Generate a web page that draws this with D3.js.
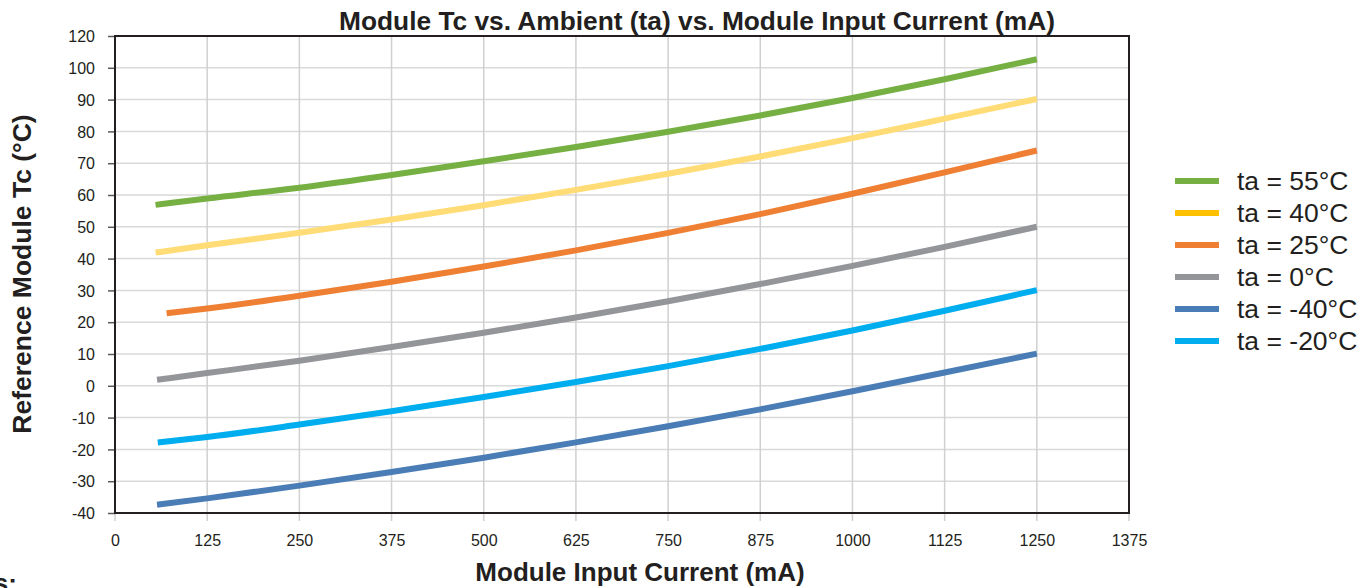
<!DOCTYPE html>
<html>
<head>
<meta charset="utf-8">
<script src="https://cdn.jsdelivr.net/npm/d3@7"></script>
<style>
    body { margin: 0; background: #fff; }
    text { font-family: "Liberation Sans", Arial, sans-serif; fill: #231f20; }
</style>
</head>
<body>
<div class="canvas"></div>
<script>
// series data (current in mA, Tc in °C)
const seriesNames = ['ta = 55°C', 'ta = 40°C', 'ta = 25°C', 'ta = 0°C', 'ta = -40°C', 'ta = -20°C'];
const startCurrent = [55, 55, 70, 57, 57, 58];
const startTc = [56.9, 41.9, 22.8, 1.9, -37.4, -17.8];
const gridCurrent = [125, 250, 375, 500, 625, 750, 875, 1000, 1125, 1250];
const tc55 = [58.9, 62.3, 66.3, 70.6, 75.1, 79.9, 85.0, 90.5, 96.4, 102.7];
const tc40 = [44.2, 48.1, 52.3, 56.8, 61.6, 66.7, 72.1, 77.9, 84.0, 90.2];
const tc25 = [24.3, 28.3, 32.7, 37.5, 42.6, 48.1, 54.0, 60.4, 67.1, 74.0];
const tc0 = [4.0, 7.9, 12.2, 16.7, 21.5, 26.6, 32.0, 37.7, 43.7, 50.0];
const tcMinus40 = [-35.4, -31.4, -27.1, -22.6, -17.8, -12.7, -7.4, -1.7, 4.2, 10.1];
const tcMinus20 = [-16.1, -12.2, -8.0, -3.5, 1.2, 6.2, 11.6, 17.4, 23.6, 30.1];

const xTickValues = d3.range(0, 1376, 125);
const yTickValues = d3.range(-40, 111, 10);
const yTickLabels = ['-40', '-30', '-20', '-10', '0', '10', '20', '30', '40', '50', '60', '70', '80', '90', '100', '120'];

const dims = {
    width: 1372,
    height: 588,
    left: 115,
    right: 1129,
    top: 36,
    bottom: 513
};

const lineColours = ['#76b043', '#ffdc76', '#ee7f33', '#939598', '#4a7db5', '#00aeef'];
const legendColours = ['#76b043', '#ffc000', '#ee7f33', '#939598', '#4a7db5', '#00aeef'];

const svg = d3.select('.canvas')
    .append('svg')
    .attr('width', dims.width)
    .attr('height', dims.height);

const x = d3.scaleLinear().domain([0, 1375]).range([dims.left, dims.right]);
const y = d3.scaleLinear().domain([-40, 110]).range([dims.bottom, dims.top]);

// gridlines
svg.append('g')
    .selectAll('line')
    .data(yTickValues)
    .enter().append('line')
    .attr('x1', dims.left).attr('x2', dims.right)
    .attr('y1', d => y(d)).attr('y2', d => y(d))
    .attr('stroke', '#d9d9d9').attr('stroke-width', 1.5);

svg.append('g')
    .selectAll('line')
    .data(xTickValues)
    .enter().append('line')
    .attr('x1', d => x(d)).attr('x2', d => x(d))
    .attr('y1', dims.top).attr('y2', dims.bottom + 8)
    .attr('stroke', '#d0d0d0').attr('stroke-width', 1.5);

// axes
const xAxis = svg.append('g')
    .attr('transform', `translate(0, ${dims.bottom})`)
    .call(d3.axisBottom(x).tickValues(xTickValues).tickSize(0).tickPadding(22).tickFormat(d3.format('d')));
xAxis.select('.domain').remove();
xAxis.selectAll('text').style('font-size', '16px').attr('fill', '#231f20');

const yAxis = svg.append('g')
    .attr('transform', `translate(${dims.left}, 0)`)
    .call(d3.axisLeft(y).tickValues(yTickValues).tickSize(7).tickPadding(13)
        .tickFormat((d, i) => yTickLabels[i]));
yAxis.select('.domain').remove();
yAxis.selectAll('line').attr('stroke', '#595959').attr('stroke-width', 1.5);
yAxis.selectAll('text').style('font-size', '16px').attr('fill', '#231f20').attr('dy', '0.35em');

// curves
const series = [tc55, tc40, tc25, tc0, tcMinus40, tcMinus20].map((vals, i) => {
    const pts = [{ current: startCurrent[i], tc: startTc[i] }];
    gridCurrent.forEach((c, j) => pts.push({ current: c, tc: vals[j] }));
    return { name: seriesNames[i], points: pts };
});

const line = d3.line()
    .x(d => x(d.current))
    .y(d => y(d.tc))
    .curve(d3.curveMonotoneX);

svg.append('g')
    .selectAll('path')
    .data(series)
    .enter().append('path')
    .attr('d', d => line(d.points))
    .attr('fill', 'none')
    .attr('stroke', (d, i) => lineColours[i])
    .attr('stroke-width', 6);

// frame
svg.append('rect')
    .attr('x', dims.left).attr('y', dims.top)
    .attr('width', dims.right - dims.left).attr('height', dims.bottom - dims.top)
    .attr('fill', 'none').attr('stroke', '#231f20').attr('stroke-width', 2);

// titles
svg.append('text')
    .attr('x', 697).attr('y', 30)
    .attr('text-anchor', 'middle')
    .style('font-size', '26.3px').style('font-weight', 'bold')
    .text('Module Tc vs. Ambient (ta) vs. Module Input Current (mA)');

svg.append('text')
    .attr('x', 640).attr('y', 581)
    .attr('text-anchor', 'middle')
    .style('font-size', '26px').style('font-weight', 'bold')
    .text('Module Input Current (mA)');

svg.append('text')
    .attr('transform', `translate(31, 274) rotate(-90)`)
    .attr('text-anchor', 'middle')
    .style('font-size', '26.5px').style('font-weight', 'bold')
    .text('Reference Module Tc (°C)');

// notes heading, only its tail shows at the bottom-left corner
svg.append('text')
    .attr('x', 17).attr('y', 592)
    .attr('text-anchor', 'end')
    .style('font-size', '26px').style('font-weight', 'bold')
    .text('Notes:');

// legend
const legendY = d3.scalePoint().domain(seriesNames).range([181, 341]);
const legend = svg.append('g')
    .selectAll('g')
    .data(seriesNames)
    .enter().append('g')
    .attr('transform', d => `translate(1175, ${legendY(d)})`);

legend.append('line')
    .attr('x1', 0).attr('x2', 44)
    .attr('stroke', (d, i) => legendColours[i])
    .attr('stroke-width', 6);

legend.append('text')
    .attr('x', 62).attr('y', 9)
    .style('font-size', '26.5px')
    .text(d => d);
</script>
</body>
</html>
